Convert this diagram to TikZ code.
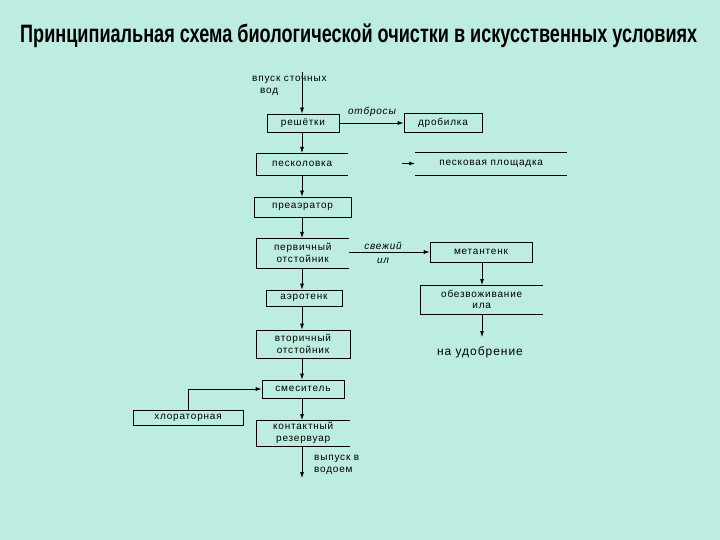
\documentclass[tikz,border=0pt]{standalone}
\usepackage{fontspec}
\setmainfont{Liberation Sans}[LetterSpace=8]
\usetikzlibrary{arrows.meta}
\definecolor{bg}{HTML}{BDEDE0}
\begin{document}
\begin{tikzpicture}[x=1pt,y=-1pt,
  ar/.style={-{Latex[length=6pt,width=4pt]},line width=0.7pt},
  bx/.style={draw,line width=0.7pt,inner sep=0pt,font=\fontsize{10}{11.5}\selectfont,align=center},
  lb/.style={font=\fontsize{10}{11.5}\selectfont,align=center,inner sep=0pt},
  il/.style={font=\fontsize{10}{11.5}\selectfont\itshape,inner sep=0pt}]
\fill[bg] (0,0) rectangle (720,540);
\useasboundingbox (0,0) rectangle (720,540);
\node[anchor=west,inner sep=0pt,font=\addfontfeature{LetterSpace=0}\bfseries\fontsize{13}{15}\selectfont] (title) at (20,36) {\resizebox{677pt}{!}{\scalebox{1}[1.39]{Принципиальная схема биологической очистки в искусственных условиях}}};
\node[lb,anchor=west,align=left] (in) at (252,86) {впуск сточных\\\hspace*{8pt}вод};
\coordinate (inp) at (302,72);
\node[bx,minimum width=72,minimum height=18] (r) at (303,123) {решётки};
\node[bx,minimum width=78,minimum height=19] (d) at (443,123) {дробилка};
\node[il] (otb) at (372,112) {отбросы};
\node[lb,minimum width=92,minimum height=22,anchor=west] (p) at (256,164) {песколовка};
\draw[line width=0.7pt] (348,153) -- (256,153) -- (256,175) -- (348,175);
\node[lb,minimum width=152,minimum height=23,anchor=west] (pp) at (415,163.5) {песковая площадка};
\draw[line width=0.7pt] (415,152) -- (567,152) (415,175) -- (567,175);
\coordinate (ppa) at (402,163.5);
\node[bx,minimum width=97,minimum height=20] (pa) at (302.5,207) {преаэратор};
\node[lb,minimum width=93,minimum height=30,anchor=west] (po) at (256,253) {первичный\\отстойник};
\draw[line width=0.7pt] (349,238) -- (256,238) -- (256,268) -- (349,268);
\node[bx,minimum width=102,minimum height=20] (m) at (481,252) {метантенк};
\node[il,align=center] (sv) at (383,253) {свежий\\[3pt]ил};
\node[lb,minimum width=123,minimum height=29,anchor=west] (ob) at (420,299.5) {обезвоживание\\ила};
\draw[line width=0.7pt] (543,285) -- (420,285) -- (420,314) -- (543,314);
\node[lb,font=\fontsize{12}{13}\selectfont] (ud) at (480,352) {на удобрение};
\node[bx,minimum width=76,minimum height=16] (a) at (304,298) {аэротенк};
\node[bx,minimum width=94,minimum height=28] (vo) at (303,344) {вторичный\\отстойник};
\node[bx,minimum width=82,minimum height=18] (s) at (303,389) {смеситель};
\node[bx,minimum width=110,minimum height=15] (h) at (188,417.5) {хлораторная};
\node[lb,minimum width=94,minimum height=26,anchor=west] (k) at (256,433) {контактный\\резервуар};
\draw[line width=0.7pt] (350,420) -- (256,420) -- (256,446) -- (350,446);
\coordinate (out) at (302,478);
\node[lb,anchor=west,align=left] (vy) at (314,465) {выпуск в\\водоем};
\draw[ar] (inp) -- (r.north -| inp);
\draw[ar] (r.east) -- (d.west);
\draw[ar] (ppa) -- (ppa -| pp.west);
\draw[ar] (302,132) -- (302,153);
\draw[ar] (302,175) -- (pa.north -| 302,0);
\draw[ar] (pa.south -| 302,0) -- (302,238);
\draw[ar] (302,268) -- (a.north -| 302,0);
\draw[ar] (a.south -| 302,0) -- (vo.north -| 302,0);
\draw[ar] (vo.south -| 302,0) -- (s.north -| 302,0);
\draw[ar] (s.south -| 302,0) -- (302,420);
\draw[ar] (302,446) -- (out);
\draw[ar] (349,252) -- (m.west);
\draw[ar] (m.south -| 482,0) -- (482,285);
\draw[ar] (482,314) -- (482,337);
\draw[ar] (h.north) -- (h.north |- s.west) -- (s.west);
\end{tikzpicture}
\end{document}
